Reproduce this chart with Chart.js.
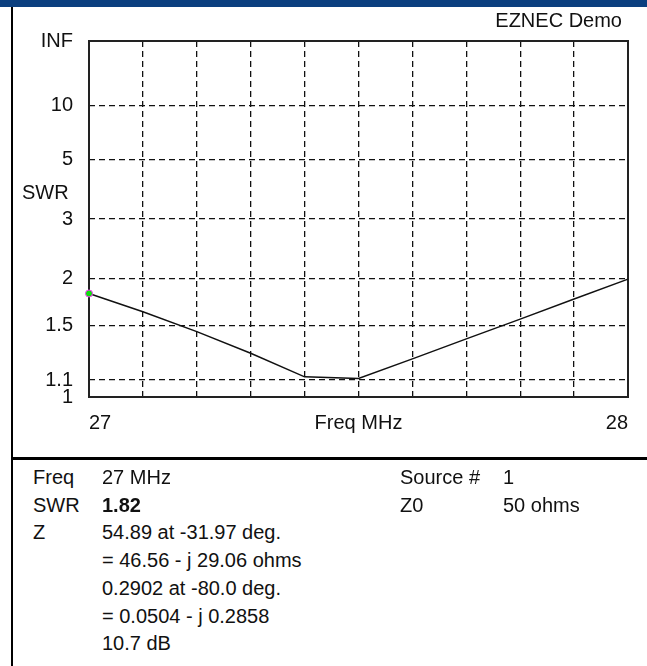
<!DOCTYPE html>
<html>
<head>
<meta charset="utf-8">
<script src="https://cdn.jsdelivr.net/npm/chart.js@4/dist/chart.umd.min.js"></script>
<style>
  body { margin: 0; background: #fff; font-family: "Liberation Sans", Arial, sans-serif; color: #111; }
  #page { position: relative; width: 647px; height: 666px; overflow: hidden; }
  #titlebar { position: absolute; left: 0; top: 0; width: 647px; height: 7px; background: #0b3f7f; }
  #leftrule { position: absolute; left: 11px; top: 7px; width: 2px; height: 659px; background: #000; }
  #sep { position: absolute; left: 11px; top: 457px; width: 636px; height: 3px; background: #000; }
  #plotbox { position: absolute; left: 0; top: 7px; width: 647px; height: 451px; }
  .t { position: absolute; font-size: 20px; line-height: 24px; white-space: pre; }
</style>
</head>
<body>
<div id="page">
  <div id="titlebar"></div>
  <div id="plotbox"><canvas id="swrChart" width="647" height="451"></canvas></div>
  <div id="leftrule"></div>
  <div id="sep"></div>
  <div class="t" style="right:25px; top:8px;">EZNEC Demo</div>
  <div class="t" style="left:22px; top:180px;">SWR</div>
  <div id="info"></div>
</div>
<script>
// Sweep points (MHz) and SWR
const freqs = [27.0, 27.1, 27.2, 27.3, 27.4, 27.5, 27.6, 27.7, 27.8, 27.9, 28.0];
const swrValues = [1.82, 1.63, 1.45, 1.28, 1.12, 1.11, 1.24, 1.39, 1.56, 1.76, 1.99];

// SWR axis ticks (the scale is linear in reflection coefficient)
const swrTicks = [1, 1.1, 1.5, 2, 3, 5, 10, Infinity];
const swrTickLabels = ['1', '1.1', '1.5', '2', '3', '5', '10', 'INF'];

// Frequency axis labels, one per sweep point
const freqTickLabels = ['27', '', '', '', '', 'Freq MHz', '', '', '', '', '28'];

// Readout panel for the marker point
const readoutRows = [
    ['Freq', '27 MHz', 'Source #', '1'],
    ['SWR', '<b>1.82</b>', 'Z0', '50 ohms'],
    ['Z', '54.89 at -31.97 deg.', '', ''],
    ['', '= 46.56 - j 29.06 ohms', '', ''],
    ['', '0.2902 at -80.0 deg.', '', ''],
    ['', '= 0.0504 - j 0.2858', '', ''],
    ['', '10.7 dB', '', ''],
];

const FONT = '"Liberation Sans", Arial, sans-serif';

function rho(swr) {
    return swr === Infinity ? 1 : (swr - 1) / (swr + 1);
}

// Build the readout text
const info = document.getElementById('info');
const cols = [33, 102, 400, 503];
readoutRows.forEach((row, r) => {
    row.forEach((txt, c) => {
        if (!txt) return;
        const d = document.createElement('div');
        d.className = 't';
        d.style.left = cols[c] + 'px';
        d.style.top = Math.round(465 + r * 27.7) + 'px';
        d.innerHTML = txt;
        info.appendChild(d);
    });
});

// Solid frame round the plot area
const plotFrame = {
    id: 'plotFrame',
    beforeDatasetsDraw(chart) {
        const { ctx, chartArea: a } = chart;
        ctx.save();
        ctx.strokeStyle = '#222';
        ctx.lineWidth = 2;
        ctx.strokeRect(a.left, a.top, a.right - a.left, a.bottom - a.top);
        ctx.restore();
    }
};

const gridColor = (ctx, n) => (ctx.index === 0 || ctx.index === n - 1) ? 'rgba(0,0,0,0)' : '#111';

const swrChart = new Chart(document.getElementById('swrChart').getContext('2d'), {
    type: 'line',
    data: {
        datasets: [{
            data: freqs.map((f, i) => ({ x: f, y: rho(swrValues[i]) })),
            borderColor: '#111',
            borderWidth: 1.5,
            tension: 0,
            pointRadius: freqs.map((f, i) => i === 0 ? 3.5 : 0),
            pointBackgroundColor: '#11dd11',
            pointBorderColor: '#ff33ff',
            pointBorderWidth: 1,
            clip: false,
        }]
    },
    options: {
        responsive: false,
        animation: false,
        layout: { padding: { top: 34, right: 19, left: 0, bottom: 0 } },
        plugins: { legend: { display: false }, tooltip: { enabled: false } },
        scales: {
            x: {
                type: 'linear',
                min: 27,
                max: 28,
                afterBuildTicks: s => { s.ticks = freqs.map(v => ({ value: v })); },
                afterFit: s => { s.height = 61; },
                ticks: {
                    autoSkip: false,
                    maxRotation: 0,
                    align: 'inner',
                    padding: 14,
                    color: '#111',
                    font: { family: FONT, size: 20 },
                    callback: (v, i) => freqTickLabels[i],
                },
                grid: { color: ctx => gridColor(ctx, freqs.length), lineWidth: 1.3, drawTicks: false },
                border: { display: false, dash: [6, 4] },
            },
            y: {
                type: 'linear',
                min: 0,
                max: 1,
                afterBuildTicks: s => { s.ticks = swrTicks.map(v => ({ value: rho(v) })); },
                afterFit: s => { s.width = 89; },
                ticks: {
                    autoSkip: false,
                    padding: 16,
                    color: '#111',
                    font: { family: FONT, size: 20 },
                    callback: (v, i) => swrTickLabels[i],
                },
                grid: { color: ctx => gridColor(ctx, swrTicks.length), lineWidth: 1.3, drawTicks: false },
                border: { display: false, dash: [6, 4] },
            }
        }
    },
    plugins: [plotFrame]
});
</script>
</body>
</html>
